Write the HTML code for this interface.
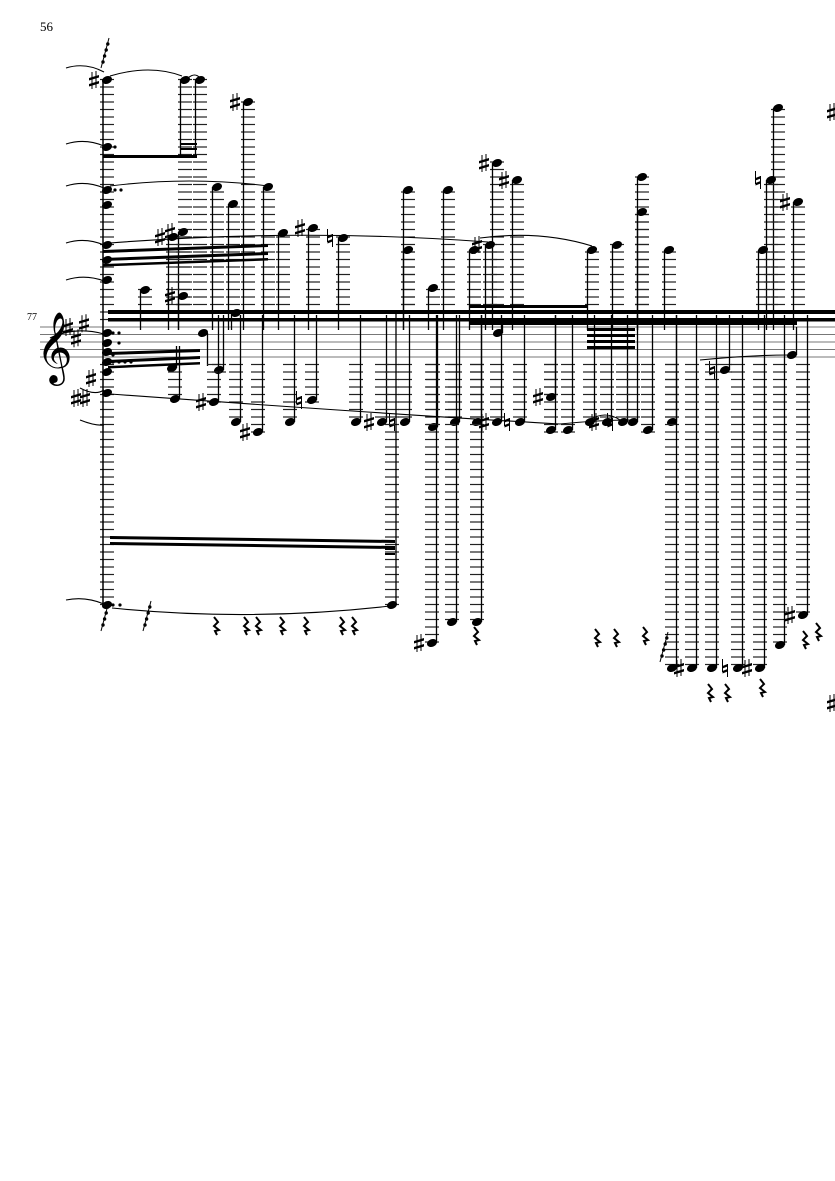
<!DOCTYPE html>
<html><head><meta charset="utf-8"><style>
html,body{margin:0;padding:0;background:#fff}
svg{display:block}
</style></head><body>
<svg id="s" width="835" height="1181" viewBox="0 0 835 1181" xmlns="http://www.w3.org/2000/svg">
<rect width="835" height="1181" fill="#fff"/>
<text x="40" y="31" font-family="Liberation Serif, serif" font-size="13">56</text>
<text x="27" y="320" font-family="Liberation Serif, serif" font-size="10">77</text>
<g id="staff" stroke="#777" stroke-width="0.9"></g>
<text x="36" y="368" font-family="DejaVu Serif, serif" font-size="62">𝄞</text>
<g id="g" fill="#000" stroke="#000"></g>
</svg>
<script>
var NS="http://www.w3.org/2000/svg";
var g=document.getElementById('g'),st=document.getElementById('staff');
function el(t,a,p){var e=document.createElementNS(NS,t);for(var k in a)e.setAttribute(k,a[k]);(p||g).appendChild(e);return e;}
var T=327,S=7.5,B=T+4*S;
for(var i=0;i<5;i++)el('line',{x1:40,x2:835,y1:T+i*S,y2:T+i*S},st);
function ledgers(x,y){
  if(y<T-3){for(var yy=T-S;yy>=y-2;yy-=S)el('line',{x1:x-7,x2:x+7,y1:yy,y2:yy,'stroke-width':1.2,stroke:'#222'});}
  if(y>B+3){for(var yy=B+S;yy<=y+2;yy+=S)el('line',{x1:x-7,x2:x+7,y1:yy,y2:yy,'stroke-width':1.2,stroke:'#222'});}
}
function head(x,y){el('ellipse',{cx:x,cy:y,rx:5.2,ry:3.8,transform:'rotate(-22 '+x+' '+y+')',stroke:'none'});}
function sharp(x,y){
  el('line',{x1:x-2,x2:x-2,y1:y-8,y2:y+9,'stroke-width':1});
  el('line',{x1:x+2,x2:x+2,y1:y-9,y2:y+8,'stroke-width':1});
  el('polygon',{points:(x-5)+','+(y-2)+' '+(x+5)+','+(y-5)+' '+(x+5)+','+(y-2.5)+' '+(x-5)+','+(y+0.5),stroke:'none'});
  el('polygon',{points:(x-5)+','+(y+4)+' '+(x+5)+','+(y+1)+' '+(x+5)+','+(y+3.5)+' '+(x-5)+','+(y+6.5),stroke:'none'});
}
function natural(x,y){
  el('line',{x1:x-2.5,x2:x-2.5,y1:y-9,y2:y+4,'stroke-width':1});
  el('line',{x1:x+2.5,x2:x+2.5,y1:y-4,y2:y+9,'stroke-width':1});
  el('polygon',{points:(x-2.5)+','+(y-2)+' '+(x+2.5)+','+(y-4)+' '+(x+2.5)+','+(y-1.5)+' '+(x-2.5)+','+(y+0.5),stroke:'none'});
  el('polygon',{points:(x-2.5)+','+(y+3)+' '+(x+2.5)+','+(y+1)+' '+(x+2.5)+','+(y+3.5)+' '+(x-2.5)+','+(y+5.5),stroke:'none'});
}
function acc(x,y,c){var ax=x-13;for(var i=0;i<c.length;i++){var ch=c[c.length-1-i];if(ch=='♯')sharp(ax-i*9,y);else natural(ax-i*9,y);}}
function note(x,y,a,sy){
  ledgers(x,y);
  if(sy===undefined)sy=(y<T?330:315);
  var sx=y<T?x-4.5:x+4.5;
  el('line',{x1:sx,x2:sx,y1:y,y2:sy,'stroke-width':1.3});
  head(x,y);
  if(a)acc(x,y,a);
}
// key signature
sharp(68,T);sharp(76,T+S*1.5);sharp(84,T-S*0.5);
// big chord column
ledgers(107,80);ledgers(107,605);
el('line',{x1:103,x2:103,y1:80,y2:605,'stroke-width':1.5});
[80,147,190,205,245,260,280,333,343,352,362,372,393,605].forEach(function(y){head(107,y);});
acc(107,80,'♯');acc(104,378,'♯');acc(98,398,'♯♯');
var N=[
[185,80,'',158],[200,80,'',158],[248,102,'♯'],[217,187],[233,204],[268,187],
[183,232,'♯'],[173,237,'♯'],[283,233],[313,228,'♯'],[343,238,'♮'],
[145,290],[183,296,'♯'],
[408,190],[448,190],[497,163,'♯'],[517,180,'♯'],[408,250],[433,288],[474,250],[490,245,'♯'],
[642,177],[642,212],[592,250],[617,245],[669,250],
[778,108],[771,180,'♮'],[798,202,'♯'],[763,250],
[203,333,'',366],[236,313,'',330],[498,333,'',318],
[172,368,'',346],[175,399,'',346],[219,370],[214,402,'♯'],[236,422],[258,432,'♯'],[290,422],[312,400,'♮'],
[356,422],[382,422,'♯'],[405,422,'♮'],[433,427],[455,422],[477,422],[497,422,'♯'],[520,422,'♮'],
[551,430],[568,430],[551,397,'♯'],[590,422],[607,422,'♯'],[623,422,'♮'],[633,422],[648,430],[672,422],
[432,643,'♯'],[452,622],[477,622],[725,370,'♮'],[792,355,'',327],
[672,668],[692,668,'♯'],[712,668],[738,668,'♮'],[760,668,'♯'],[780,645],[803,615,'♯']
];
N.forEach(function(n){note(n[0],n[1],n[2],n[3]);});
ledgers(392,605);el('line',{x1:396,x2:396,y1:312,y2:605,'stroke-width':1.3});head(392,605);
function beam(x1,y1,x2,y2,h){el('polygon',{points:x1+','+y1+' '+x2+','+y2+' '+x2+','+(y2+h)+' '+x1+','+(y1+h),stroke:'none'});}
beam(108,310,835,310,4);beam(108,318,835,318,3.5);
beam(470,305,587,305,3);beam(470,321,797,321,4);
beam(587,328,635,328,3);beam(587,334,635,334,3);beam(587,340,635,340,3);beam(587,346,635,346,3);
beam(108,352,200,349,3);beam(108,360,200,356,3);beam(108,366,200,362,2.5);
beam(103,155,197,155,3);beam(181,148,197,148,2);beam(181,143,197,143,2);
beam(103,250,268,244,3);beam(103,258,268,252,3);beam(103,264,268,258,2.5);
beam(110,536,395,540,3);beam(110,542,395,546,3);beam(385,548,395,548,2);beam(385,553,395,553,2);
function arc(d){el('path',{d:d,fill:'none','stroke-width':1.1});}
arc('M66,68 Q85,62 104,72');arc('M110,76 Q150,64 182,76');arc('M188,78 Q195,72 200,78');
arc('M66,144 Q85,138 104,146');arc('M66,186 Q85,180 104,188');arc('M110,186 Q190,176 268,186');
arc('M66,243 Q85,237 104,245');arc('M110,243 Q300,228 488,242');arc('M480,238 Q540,230 592,246');
arc('M66,280 Q85,274 104,281');arc('M50,338 Q75,326 104,334');arc('M80,388 Q95,396 104,390');
arc('M110,394 Q400,415 560,424 Q600,420 630,420');arc('M590,420 Q605,410 620,420');
arc('M66,600 Q85,596 104,604');arc('M112,608 Q250,622 390,606');arc('M80,420 Q95,426 104,425');
arc('M700,360 Q750,355 790,355');
[[115,190],[121,190],[115,147],[113,333],[119,333],[113,355],[113,362],[119,362],[125,362],[131,362],[113,605],[120,605],[119,343]].forEach(function(d){el('circle',{cx:d[0],cy:d[1],r:1.6,stroke:'none'});});
function grace(x,y){el('line',{x1:x,x2:x+8,y1:y+26,y2:y-4,'stroke-width':1});for(var i=0;i<4;i++)el('circle',{cx:x+2+i*1.6,cy:y+20-i*6,r:1.7,stroke:'none'});}
grace(101,42);grace(101,605);grace(143,605);grace(660,636);
function rest(x,y){el('path',{d:'M'+(x-2)+','+(y-9)+' l4,5 l-4,4 l5,4 l-4,1 l2,4',fill:'none','stroke-width':2});}
[[216,626],[246,626],[258,626],[282,626],[306,626],[342,626],[354,626],[476,636],[597,638],[616,638],[645,636],[710,693],[727,693],[762,688],[805,640],[818,632]].forEach(function(r){rest(r[0],r[1]);});
sharp(832,112);sharp(832,703);
</script>
</body></html>
